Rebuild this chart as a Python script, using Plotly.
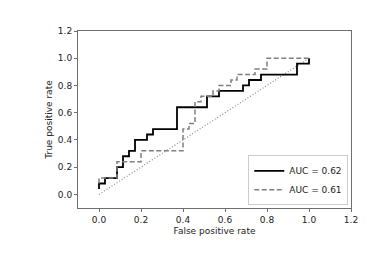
import plotly.graph_objects as go

# Solid curve (AUC = 0.62): step-curve vertices (hv)
fpr_a = [0, 0, 1/35, 3/35, 4/35, 5/35, 6/35, 8/35, 9/35, 13/35, 18/35, 20/35, 24/35, 25/35, 27/35, 33/35, 1.0]
tpr_a = [0.04, 0.08, 0.12, 0.20, 0.28, 0.32, 0.40, 0.44, 0.48, 0.64, 0.72, 0.76, 0.80, 0.84, 0.88, 0.96, 1.0]

# Dashed curve (AUC = 0.61)
fpr_b = [0, 0, 3/35, 7/35, 14/35, 15/35, 16/35, 17/35, 19/35, 20/35, 22/35, 23/35, 26/35, 28/35, 1.0]
tpr_b = [0.08, 0.12, 0.24, 0.32, 0.48, 0.52, 0.68, 0.72, 0.76, 0.80, 0.84, 0.88, 0.92, 1.0, 1.0]

diag = [0, 1]
labels = ["AUC = 0.62", "AUC = 0.61"]

fig = go.Figure()
fig.add_trace(go.Scatter(x=diag, y=diag, mode="lines", showlegend=False,
                         line=dict(color="#8c8c8c", width=1.2, dash="1px,2px")))
fig.add_trace(go.Scatter(x=fpr_a, y=tpr_a, mode="lines", name=labels[0], line_shape="hv",
                         line=dict(color="black", width=1.8)))
fig.add_trace(go.Scatter(x=fpr_b, y=tpr_b, mode="lines", name=labels[1], line_shape="hv",
                         line=dict(color="#7f7f7f", width=1.5, dash="5px,2.5px")))

axis_common = dict(range=[-0.1, 1.2], tick0=0, dtick=0.2, tickformat=".1f",
                   showgrid=False, zeroline=False, showline=True, mirror=True,
                   linecolor="#6e6e6e", linewidth=1, ticks="outside", ticklen=3,
                   tickcolor="#6e6e6e", tickfont=dict(size=9, color="#222"),
                   automargin=False)
fig.update_xaxes(**axis_common, title=dict(text="False positive rate", font=dict(size=9, color="#222"), standoff=3))
fig.update_yaxes(**axis_common, title=dict(text="True positive rate", font=dict(size=9, color="#222"), standoff=3))

# page body has an 8px default margin, so offsets are compensated here
fig.update_layout(
    width=390, height=260,
    margin=dict(l=70, r=47, t=23, b=60),
    paper_bgcolor="white", plot_bgcolor="white",
    font=dict(family="DejaVu Sans", size=9, color="#222"),
    legend=dict(x=0.99, y=0.015, xanchor="right", yanchor="bottom",
                bordercolor="#cccccc", borderwidth=1, bgcolor="white",
                font=dict(size=9), tracegroupgap=0, itemwidth=30),
)

fig.write_html("out.html")
